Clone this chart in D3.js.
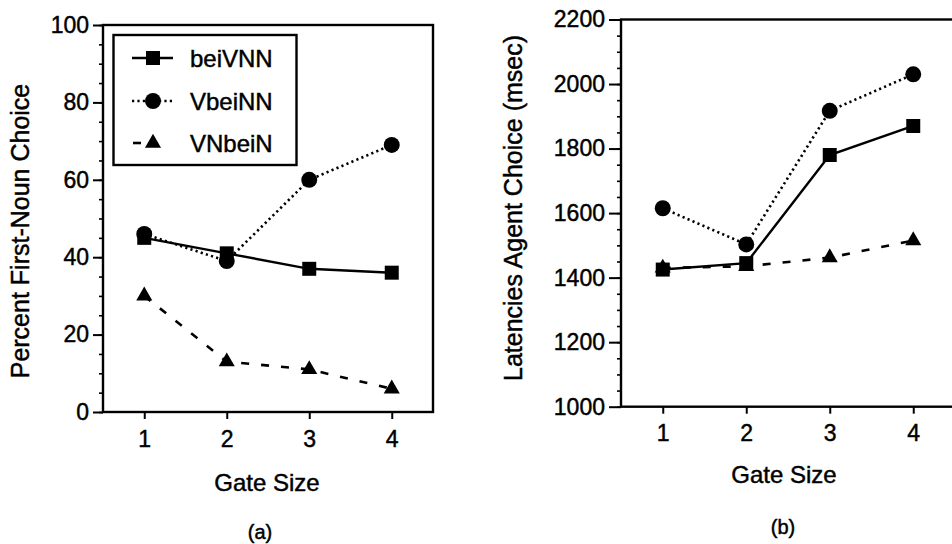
<!DOCTYPE html>
<html>
<head>
<meta charset="utf-8">
<script src="https://cdn.jsdelivr.net/npm/d3@7"></script>
<style>
  html, body { margin: 0; padding: 0; background: #fff; }
  svg { display: block; font-family: "Liberation Sans", Arial, Helvetica, sans-serif; }
  svg text { stroke: #000; stroke-width: 0.45px; fill: #000; }
</style>
</head>
<body>
<svg id="chart" width="952" height="544"></svg>
<script>
// Gate sizes shared by both panels
const gateSizes = [1, 2, 3, 4];

// Series names
const seriesNames = ["beiVNN", "VbeiNN", "VNbeiN"];

// Panel (a): percent first-noun choice
const pctBeiVNN = [45, 41, 37, 36];
const pctVbeiNN = [46, 39, 60, 69];
const pctVNbeiN = [30, 13, 11, 6];

// Panel (b): latencies of agent choice (msec)
const latBeiVNN = [1425, 1445, 1780, 1870];
const latVbeiNN = [1615, 1503, 1917, 2030];
const latVNbeiN = [1430, 1435, 1462, 1515];

// Tick values
const pctTicks = [0, 20, 40, 60, 80, 100];
const latTicks = [1000, 1200, 1400, 1600, 1800, 2000, 2200];

const svg = d3.select("#chart");

// Line / marker styles per series
const styles = {
  beiVNN: { dash: null, width: 2.4, symbol: d3.symbolSquare, size: 196 },
  VbeiNN: { dash: "2.2,3.2", width: 2.6, symbol: d3.symbolCircle, size: 200 },
  VNbeiN: { dash: "8,12", width: 2.6, symbol: d3.symbolTriangle, size: 112 }
};

function drawPanel(cfg) {
  const g = svg.append("g");
  const x = d3.scaleLinear().domain([0.5, 4.5]).range([cfg.left, cfg.right]);
  const y = d3.scaleLinear().domain(cfg.yDomain).range([cfg.bottom, cfg.top]);

  // Minor y ticks
  g.append("g")
    .attr("transform", `translate(${cfg.left},0)`)
    .call(d3.axisLeft(y).tickValues(d3.range(cfg.yDomain[0], cfg.yDomain[1] + 1e-9, cfg.minorStep))
      .tickSize(cfg.minorLen).tickFormat(""))
    .call(a => a.select(".domain").remove())
    .call(a => a.selectAll("line").attr("stroke", "#000").attr("stroke-width", 1.6));

  // Major y ticks with labels
  g.append("g")
    .attr("transform", `translate(${cfg.left},0)`)
    .call(d3.axisLeft(y).tickValues(cfg.yTicks).tickSize(cfg.majorLen).tickPadding(cfg.yPad).tickFormat(d3.format("d")))
    .call(a => a.select(".domain").remove())
    .call(a => a.selectAll("line").attr("stroke", "#000").attr("stroke-width", 2))
    .call(a => a.selectAll("text").attr("font-size", 23).attr("fill", "#000")
      .attr("font-family", "Liberation Sans, Arial, sans-serif"));

  // X ticks with labels
  g.append("g")
    .attr("transform", `translate(0,${cfg.bottom})`)
    .call(d3.axisBottom(x).tickValues(gateSizes).tickSize(7).tickPadding(cfg.xPad).tickFormat(d3.format("d")))
    .call(a => a.select(".domain").remove())
    .call(a => a.selectAll("line").attr("stroke", "#000").attr("stroke-width", 2))
    .call(a => a.selectAll("text").attr("font-size", 23).attr("fill", "#000")
      .attr("font-family", "Liberation Sans, Arial, sans-serif"));

  // Plot frame
  g.append("rect")
    .attr("x", cfg.left).attr("y", cfg.top)
    .attr("width", cfg.right - cfg.left).attr("height", cfg.bottom - cfg.top)
    .attr("fill", "none").attr("stroke", "#000").attr("stroke-width", 2.4);

  // Series lines
  const line = d3.line().x((d, i) => x(gateSizes[i])).y(d => y(d));
  cfg.series.forEach(s => {
    const st = styles[s.name];
    g.append("path")
      .datum(s.values)
      .attr("d", line)
      .attr("fill", "none")
      .attr("stroke", "#000")
      .attr("stroke-width", st.width)
      .attr("stroke-dasharray", st.dash);
  });
  // Markers drawn in reverse order so squares sit on top
  [...cfg.series].reverse().forEach(s => {
    const st = styles[s.name];
    g.append("g").selectAll("path")
      .data(s.values)
      .join("path")
      .attr("transform", (d, i) => `translate(${x(gateSizes[i])},${y(d)})`)
      .attr("d", d3.symbol().type(st.symbol).size(st.size))
      .attr("fill", "#000");
  });

  // Axis titles
  g.append("text")
    .attr("x", cfg.xTitleX).attr("y", cfg.xTitleY)
    .attr("text-anchor", "middle").attr("font-size", 24)
    .text("Gate Size");

  g.append("text")
    .attr("transform", `translate(${cfg.yTitleX},${cfg.yTitleY}) rotate(-90)`)
    .attr("text-anchor", "middle").attr("font-size", 25)
    .text(cfg.yTitle);

  // Panel caption
  g.append("text")
    .attr("x", cfg.capX).attr("y", cfg.capY)
    .attr("text-anchor", "middle").attr("font-size", 20)
    .text(cfg.caption);

  return { x, y, g };
}

drawPanel({
  left: 103, right: 433, top: 25, bottom: 412,
  yDomain: [0, 100], yTicks: pctTicks, minorStep: 5,
  majorLen: 10, minorLen: 4, yPad: 4, xPad: 12,
  series: [
    { name: "beiVNN", values: pctBeiVNN },
    { name: "VbeiNN", values: pctVbeiNN },
    { name: "VNbeiN", values: pctVNbeiN }
  ],
  xTitleX: 267, xTitleY: 491,
  yTitleX: 29, yTitleY: 231, yTitle: "Percent First-Noun Choice",
  capX: 260, capY: 539, caption: "(a)"
});

drawPanel({
  left: 621, right: 955, top: 19.5, bottom: 406.7,
  yDomain: [1000, 2200], yTicks: latTicks, minorStep: 50,
  majorLen: 12, minorLen: 4, yPad: 4, xPad: 11,
  series: [
    { name: "beiVNN", values: latBeiVNN },
    { name: "VbeiNN", values: latVbeiNN },
    { name: "VNbeiN", values: latVNbeiN }
  ],
  xTitleX: 784, xTitleY: 483,
  yTitleX: 522, yTitleY: 208, yTitle: "Latencies Agent Choice (msec)",
  capX: 783, capY: 534, caption: "(b)"
});

// Legend inside panel (a)
const legend = svg.append("g");
legend.append("rect")
  .attr("x", 113.5).attr("y", 35).attr("width", 183).attr("height", 130)
  .attr("fill", "#fff").attr("stroke", "#000").attr("stroke-width", 2.4);

const legendRows = [
  { name: seriesNames[0], y: 58, x1: 132, x2: 173 },
  { name: seriesNames[1], y: 101, x1: 132, x2: 173 },
  { name: seriesNames[2], y: 143, x1: 133, x2: 141 }
];
legendRows.forEach(r => {
  const st = styles[r.name];
  legend.append("line")
    .attr("x1", r.x1).attr("x2", r.x2).attr("y1", r.y).attr("y2", r.y)
    .attr("stroke", "#000").attr("stroke-width", st.width)
    .attr("stroke-dasharray", r.name === "VNbeiN" ? null : st.dash);
  legend.append("path")
    .attr("transform", `translate(153,${r.y})`)
    .attr("d", d3.symbol().type(st.symbol).size(st.size))
    .attr("fill", "#000");
  legend.append("text")
    .attr("x", 190).attr("y", r.y + 8.5)
    .attr("font-size", 24)
    .text(r.name);
});
</script>
</body>
</html>
